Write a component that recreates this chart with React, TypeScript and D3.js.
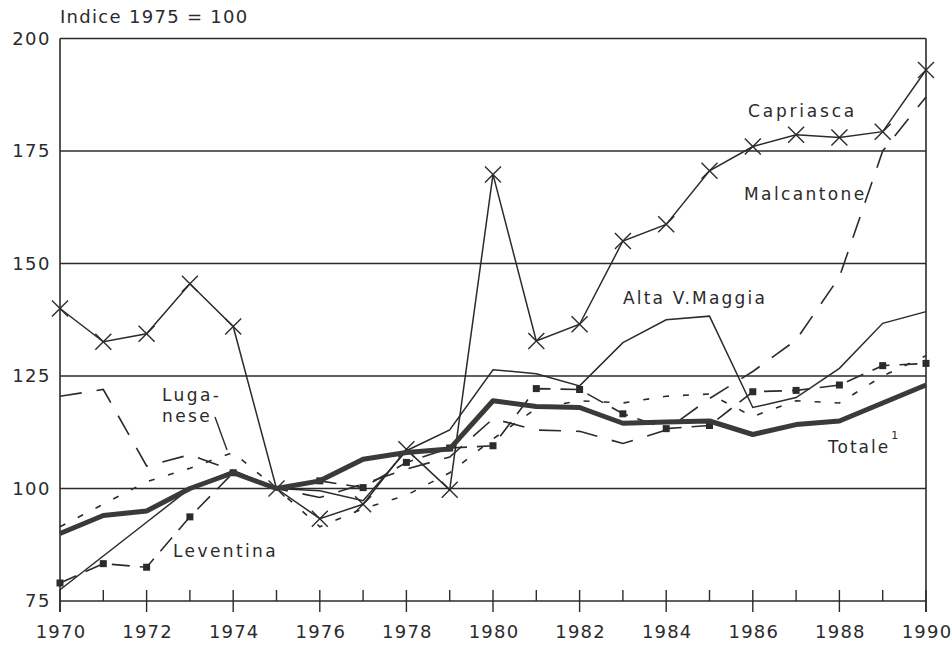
import React from 'react';
import * as d3 from 'd3';

const years = [1970, 1971, 1972, 1973, 1974, 1975, 1976, 1977, 1978, 1979, 1980, 1981, 1982, 1983, 1984, 1985, 1986, 1987, 1988, 1989, 1990];

const totale = [90, 94, 95, 100, 103.5, 100, 101.7, 106.5, 108, 108.8, 119.5, 118.2, 118, 114.5, 114.8, 115, 112, 114.2, 115, 119, 123];
const capriasca = [140, 132.6, 134.4, 145.5, 136, 100, 93.3, 96.5, 108.7, 99.7, 169.8, 132.8, 136.5, 155, 158.7, 170.6, 176, 178.6, 178, 179.3, 193];
const altaVMaggia = [77.5, 85, 92.5, 100, 104, 100, 99.5, 97.3, 108.4, 113, 126.4, 125.5, 122.8, 132.4, 137.5, 138.3, 118, 120.2, 126.7, 136.7, 139.3];
const malcantone = [120.5, 122, 105, 107.5, 104, 100, 98, 101, 104.3, 107, 115.5, 113, 112.7, 110, 113, 120, 126, 133, 147, 175, 187];
const luganese = [91.5, 96.5, 101.5, 104.5, 108, 100, 91.5, 95.5, 98.5, 103.5, 111, 117.8, 119.5, 119, 120.5, 121, 116, 119.5, 119, 125, 129.5];
const leventina = [79, 83.3, 82.5, 93.7, 103.5, 100, 101.7, 100.2, 105.8, 109, 109.5, 122.2, 122, 116.6, 113.3, 114, 121.5, 121.8, 123, 127.3, 127.8];

const yTicks = [75, 100, 125, 150, 175, 200];
const gridValues = [100, 125, 150, 175, 200];
const xLabels = [1970, 1972, 1974, 1976, 1978, 1980, 1982, 1984, 1986, 1988, 1990];
const titleText = 'Indice 1975 = 100';

const W = 952;
const H = 647;
const ink = '#2b2b2b';
const font = '"DejaVu Sans", Verdana, sans-serif';

const x = d3.scaleLinear().domain([1970, 1990]).range([60, 926]);
const y = d3.scaleLinear().domain([75, 200]).range([601, 38.5]);

const lineGen = d3
  .line<number>()
  .x((_, i) => x(years[i]))
  .y((d) => y(d));

export default function App() {
  const left = x(1970);
  const right = x(1990);
  const bottom = y(75);
  const top = y(200);
  return (
    <svg
      width={W}
      height={H}
      viewBox={`0 0 ${W} ${H}`}
      style={{ position: 'absolute', left: 0, top: 0, background: '#fff' }}
    >
      <rect x={0} y={0} width={W} height={H} fill="#fff" />
      {/* title */}
      <text x={60} y={23} fontFamily={font} fontSize={18} letterSpacing={1.3} fill={ink}>
        {titleText}
      </text>
      {/* gridlines */}
      {gridValues.map((v) => (
        <line key={'g' + v} x1={left} x2={right} y1={y(v)} y2={y(v)} stroke={ink} strokeWidth={1.5} />
      ))}
      {/* axes frame */}
      <line x1={left} x2={left} y1={top} y2={bottom + 11} stroke={ink} strokeWidth={1.6} />
      <line x1={right} x2={right} y1={top} y2={bottom + 11} stroke={ink} strokeWidth={1.6} />
      <line x1={left} x2={right} y1={bottom} y2={bottom} stroke={ink} strokeWidth={1.6} />
      {/* x ticks */}
      {years.map((yr) => {
        const major = yr % 2 === 0;
        return (
          <line
            key={'t' + yr}
            x1={x(yr)}
            x2={x(yr)}
            y1={bottom - 11}
            y2={major ? bottom + 11 : bottom}
            stroke={ink}
            strokeWidth={1.4}
          />
        );
      })}
      {/* y labels */}
      {yTicks.map((v) => (
        <text
          key={'yl' + v}
          x={51}
          y={y(v)}
          dy="0.36em"
          textAnchor="end"
          fontFamily={font}
          fontSize={18}
          letterSpacing={1.5}
          fill={ink}
        >
          {v}
        </text>
      ))}
      {/* x labels */}
      {xLabels.map((yr) => (
        <text
          key={'xl' + yr}
          x={x(yr) + 1}
          y={638}
          textAnchor="middle"
          fontFamily={font}
          fontSize={18}
          letterSpacing={1.2}
          fill={ink}
        >
          {yr}
        </text>
      ))}
      {/* series */}
      <path d={lineGen(luganese) || ''} fill="none" stroke={ink} strokeWidth={1.6} strokeDasharray="6 14" />
      <path d={lineGen(malcantone) || ''} fill="none" stroke={ink} strokeWidth={1.6} strokeDasharray="22 15" />
      <path d={lineGen(altaVMaggia) || ''} fill="none" stroke={ink} strokeWidth={1.5} />
      <path d={lineGen(leventina) || ''} fill="none" stroke={ink} strokeWidth={1.6} strokeDasharray="18 10" />
      {leventina.map((v, i) =>
        years[i] === 1975 ? null : (
          <rect key={'lv' + i} x={x(years[i]) - 3.5} y={y(v) - 3.5} width={7} height={7} fill={ink} />
        )
      )}
      <path d={lineGen(capriasca) || ''} fill="none" stroke={ink} strokeWidth={1.5} />
      {capriasca.map((v, i) => {
        const cx = x(years[i]);
        const cy = y(v);
        const s = 8;
        return (
          <path
            key={'cx' + i}
            d={`M${cx - s},${cy - s}L${cx + s},${cy + s}M${cx - s},${cy + s}L${cx + s},${cy - s}`}
            stroke={ink}
            strokeWidth={1.4}
            fill="none"
          />
        );
      })}
      <path d={lineGen(totale) || ''} fill="none" stroke="#3a3a36" strokeWidth={5} strokeLinejoin="round" />
      {/* labels */}
      <text x={748} y={117} fontFamily={font} fontSize={17} letterSpacing={2.8} fill={ink}>Capriasca</text>
      <text x={744} y={200} fontFamily={font} fontSize={17} letterSpacing={2.4} fill={ink}>Malcantone</text>
      <text x={623} y={304} fontFamily={font} fontSize={17} letterSpacing={2.2} fill={ink}>Alta V.Maggia</text>
      <text x={162} y={401} fontFamily={font} fontSize={17} letterSpacing={2.4} fill={ink}>Luga-</text>
      <text x={162} y={422} fontFamily={font} fontSize={17} letterSpacing={2.4} fill={ink}>nese</text>
      <line x1={215} y1={417} x2={227} y2={450} stroke={ink} strokeWidth={1.4} />
      <text x={173} y={557} fontFamily={font} fontSize={17} letterSpacing={2.4} fill={ink}>Leventina</text>
      <text x={828} y={453} fontFamily={font} fontSize={17} letterSpacing={2} fill={ink}>
        Totale
        <tspan fontSize={11} dy={-14} dx={1}>1</tspan>
      </text>
    </svg>
  );
}
